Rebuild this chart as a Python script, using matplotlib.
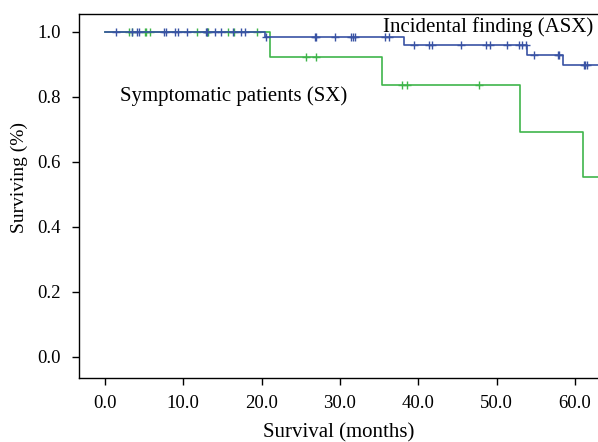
import matplotlib
matplotlib.use("Agg")
import matplotlib.pyplot as plt
import numpy as np

plt.rcParams['font.family'] = ['Liberation Serif', 'DejaVu Serif']

# Incidental finding (ASX) - step curve
asx_times = [0.0, 20.4, 38.2, 53.9, 58.5, 63.0]
asx_surv = [1.0, 0.982, 0.958, 0.929, 0.896, 0.896]
asx_censor = [1.4, 3.5, 4.1, 4.3, 7.5, 7.8, 8.9, 9.3, 10.5, 12.9, 13.0, 14.1, 14.8,
              16.3, 17.3, 17.9, 20.5, 26.8, 27.0, 29.3, 31.4, 31.7, 31.9, 35.8, 36.2,
              39.5, 41.4, 41.7, 45.4, 48.6, 49.2, 51.3, 52.9, 53.3, 53.8, 54.8,
              57.8, 58.0, 61.1, 61.3, 61.5]

# Symptomatic patients (SX) - step curve
sx_times = [0.0, 21.1, 35.3, 53.0, 61.0, 63.0]
sx_surv = [1.0, 0.923, 0.835, 0.691, 0.552, 0.552]
sx_censor = [3.1, 3.5, 5.1, 5.2, 5.8, 11.7, 13.0, 13.2, 15.7, 16.5, 19.4,
             25.6, 26.9, 37.9, 38.5, 47.7]

xticks = [0, 10, 20, 30, 40, 50, 60]
yticks = [0.0, 0.2, 0.4, 0.6, 0.8, 1.0]

blue = '#3953a4'
green = '#3fb54b'

def surv_at(t, times, surv):
    idx = np.searchsorted(times, t, side='right') - 1
    return np.array(surv)[idx]

fig = plt.figure(figsize=(5.98, 4.42), dpi=100)
ax = fig.add_axes([0.1316, 0.1448, 0.8684, 0.8235])

ax.step(sx_times, sx_surv, where='post', color=green, lw=1.2, zorder=2)
ax.step(asx_times, asx_surv, where='post', color=blue, lw=1.2, zorder=3)
ax.plot(sx_censor, surv_at(sx_censor, sx_times, sx_surv), ls='none', marker='+',
        ms=6, mew=1.0, color=green, zorder=2)
ax.plot(asx_censor, surv_at(asx_censor, asx_times, asx_surv), ls='none', marker='+',
        ms=6, mew=1.0, color=blue, zorder=3)

ax.text(35.5, 1.013, 'Incidental finding (ASX)', fontsize=15, va='center', ha='left')
ax.text(1.9, 0.800, 'Symptomatic patients (SX)', fontsize=15, va='center', ha='left')

ax.set_xlim(-3.36, 62.94)
ax.set_ylim(-0.0655, 1.054)
ax.set_xticks(xticks)
ax.set_xticklabels([f'{v:.1f}' for v in xticks], fontsize=13.5)
ax.set_yticks(yticks)
ax.set_yticklabels([f'{v:.1f}' for v in yticks], fontsize=13.5)
ax.tick_params(direction='out', length=5, width=1)
ax.tick_params(axis='x', pad=7)
ax.tick_params(axis='y', pad=8)
ax.spines['right'].set_visible(False)
for s in ['left', 'bottom', 'top']:
    ax.spines[s].set_linewidth(1.0)
ax.set_xlabel('Survival (months)', fontsize=15, labelpad=8)
ax.set_ylabel('Surviving (%)', fontsize=14)
ax.yaxis.set_label_coords(-0.097, 0.55)

fig.savefig('out.png', dpi=100)
